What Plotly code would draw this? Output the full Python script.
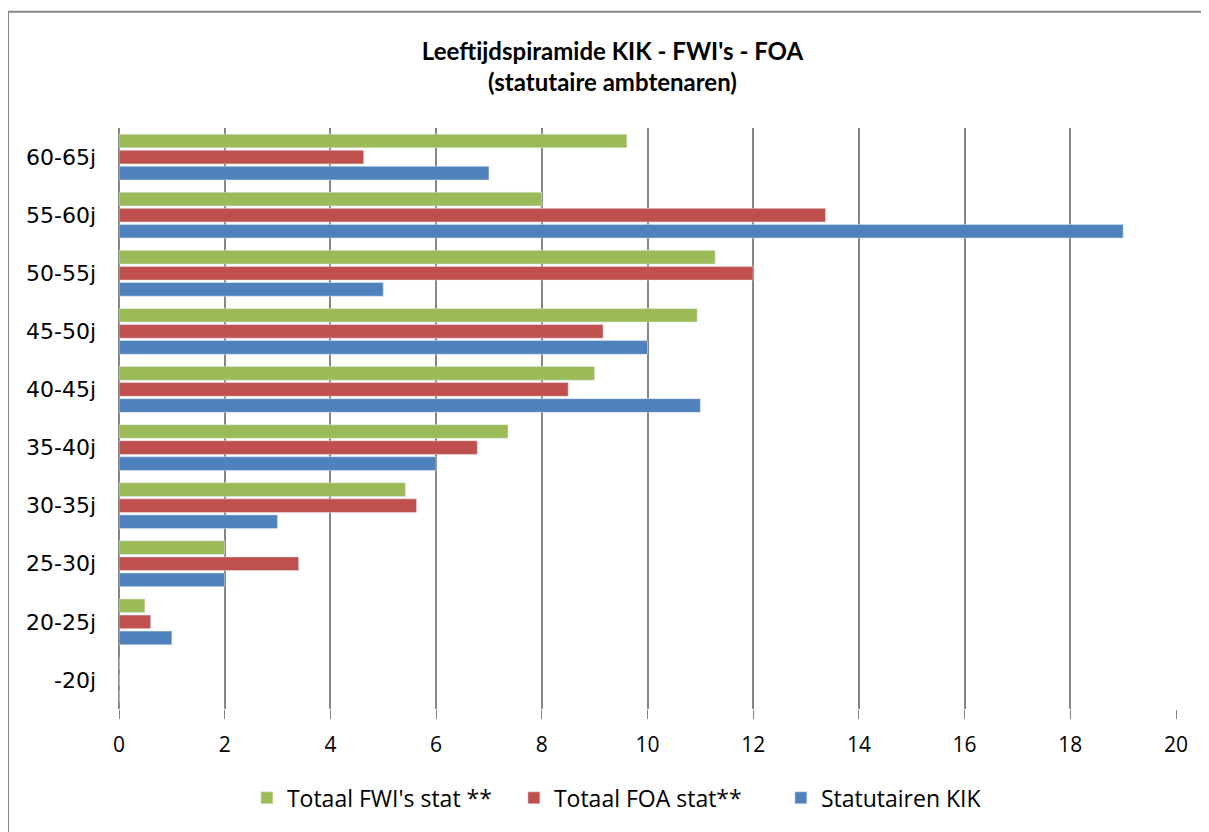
import plotly.graph_objects as go

leeftijd = ["-20j", "20-25j", "25-30j", "30-35j", "35-40j",
            "40-45j", "45-50j", "50-55j", "55-60j", "60-65j"]

kik = [0, 1, 2, 3, 6, 11, 10, 5, 19, 7]
foa = [0, 0.6, 3.4, 5.63, 6.78, 8.5, 9.16, 12.0, 13.37, 4.63]
fwi = [0, 0.49, 2.0, 5.42, 7.36, 9.0, 10.94, 11.28, 8.0, 9.61]

x_ticks = [0, 2, 4, 6, 8, 10, 12, 14, 16, 18, 20]

fig = go.Figure()

# plotly puts the first trace at the bottom of each group
fig.add_trace(go.Bar(y=leeftijd, x=kik, orientation='h',
                     name='Statutairen KIK', marker_color='#4F81BD'))
fig.add_trace(go.Bar(y=leeftijd, x=foa, orientation='h',
                     name='Totaal FOA stat**', marker_color='#C0504D'))
fig.add_trace(go.Bar(y=leeftijd, x=fwi, orientation='h',
                     name="Totaal FWI's stat **", marker_color='#9BBB59'))

# page body has an 8px margin, so everything is offset by 8px
fig.update_layout(
    width=1209, height=832,
    barmode='group', bargap=0.17, bargroupgap=0.15,
    margin=dict(l=111, r=41, t=120, b=131, autoexpand=False),
    paper_bgcolor='white', plot_bgcolor='white',
    font=dict(family='Open Sans, sans-serif', size=21, color='#000'),
    title=dict(text="<b>Leeftijdspiramide KIK - FWI's - FOA<br>(statutaire ambtenaren)</b>",
               x=0.5, xref='container', xanchor='center',
               y=0.938, yref='container', yanchor='middle',
               font=dict(family='Lato, sans-serif', size=24, color='#000')),
    legend=dict(orientation='h', traceorder='reversed',
                x=0.121, xanchor='left', y=-0.153, yanchor='middle',
                itemwidth=30, entrywidth=222, entrywidthmode='pixels',
                font=dict(family='Open Sans, sans-serif', size=23)),
    showlegend=True,
)

fig.update_xaxes(range=[0, 20], tickvals=x_ticks, automargin=False,
                 showgrid=True, gridcolor='#868686', gridwidth=1.5,
                 zeroline=True, zerolinecolor='#868686', zerolinewidth=2,
                 ticks='outside', ticklen=9, tickcolor='#868686',
                 ticklabelstandoff=8,
                 tickfont=dict(family='Open Sans, sans-serif', size=21))
fig.update_yaxes(categoryorder='array', categoryarray=leeftijd, automargin=False,
                 showgrid=False, ticks='', ticklabelstandoff=22,
                 tickfont=dict(family='DejaVu Sans, sans-serif', size=22))

# outer chart frame (cut off at right and bottom in the reference)
fig.add_shape(type='rect', xref='paper', yref='paper',
              x0=-0.105, x1=1.1, y0=-0.35, y1=1.2,
              line=dict(color='#868686', width=2), fillcolor='rgba(0,0,0,0)')

fig.write_html("out.html")
